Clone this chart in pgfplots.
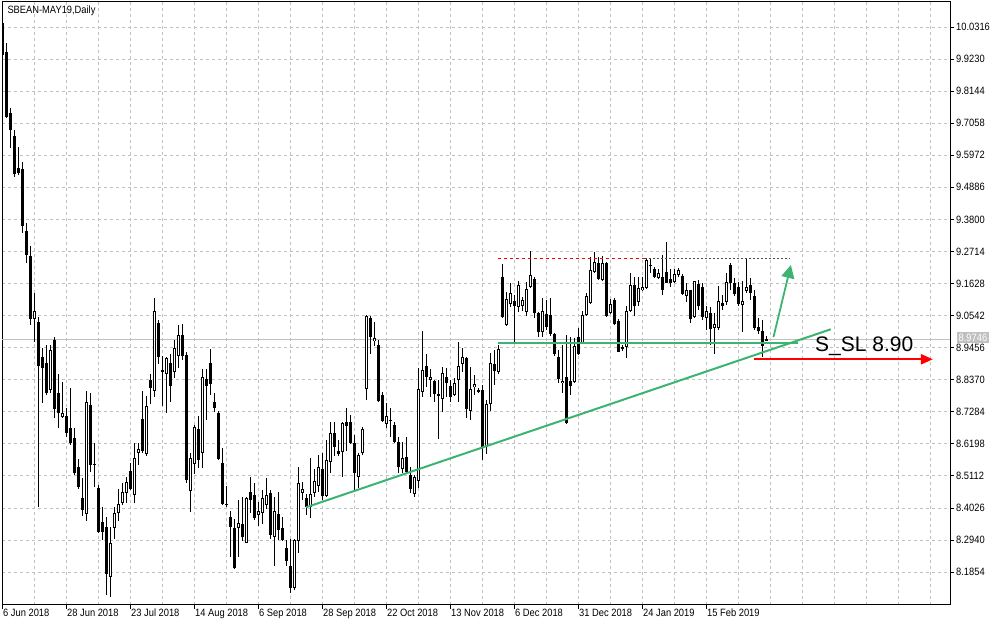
\documentclass[border=0pt]{standalone}
\usepackage{pgfplots}
\pgfplotsset{compat=1.18}
\usepackage{pgfplotstable}
\usetikzlibrary{arrows.meta}
\usepackage{fontspec}
\setmainfont{Liberation Sans}[FakeStretch=0.88]
\newfontfamily\arialfont{Liberation Sans}
\definecolor{silver}{RGB}{192,192,192}
\definecolor{msgreen}{RGB}{60,179,113}
\newcommand{\tfont}{\fontsize{10.6}{12}\selectfont}

\pgfplotstableread{
i O H L C
0 10.045 10.052 9.933 9.937
1 9.948 9.976 9.722 9.728
2 9.741 9.756 9.621 9.683
3 9.662 9.683 9.525 9.533
4 9.553 9.626 9.530 9.536
5 9.551 9.573 9.335 9.359
6 9.341 9.367 9.233 9.259
7 9.256 9.290 9.022 9.044
8 9.044 9.130 8.966 9.070
9 9.031 9.050 8.407 8.884
10 8.913 8.943 8.759 8.878
11 8.893 8.953 8.785 8.793
12 8.802 8.955 8.791 8.938
13 8.971 8.983 8.706 8.737
14 8.791 8.856 8.672 8.723
15 8.712 8.828 8.706 8.723
16 8.714 8.740 8.642 8.657
17 8.672 8.808 8.616 8.621
18 8.638 8.673 8.514 8.520
19 8.542 8.567 8.466 8.474
20 8.435 8.503 8.375 8.396
21 8.381 8.799 8.359 8.762
22 8.751 8.793 8.525 8.548
23 8.551 8.622 8.473 8.551
24 8.469 8.480 8.318 8.322
25 8.356 8.407 8.294 8.322
26 8.339 8.373 8.108 8.179
27 8.170 8.338 8.100 8.283
28 8.334 8.405 8.296 8.386
29 8.384 8.466 8.359 8.416
30 8.418 8.486 8.411 8.458
31 8.452 8.508 8.419 8.491
32 8.528 8.556 8.463 8.466
33 8.446 8.621 8.418 8.571
34 8.588 8.623 8.548 8.601
35 8.703 8.799 8.588 8.596
36 8.584 8.782 8.578 8.748
37 8.836 8.855 8.755 8.808
38 8.799 9.114 8.779 9.071
39 9.028 9.039 8.890 8.913
40 8.870 8.917 8.748 8.866
41 8.855 8.915 8.723 8.909
42 8.892 8.924 8.762 8.817
43 8.864 8.971 8.844 8.943
44 8.918 9.022 8.875 8.987
45 8.987 9.025 8.904 8.918
46 8.921 8.931 8.488 8.497
47 8.460 8.588 8.390 8.571
48 8.550 8.684 8.516 8.678
49 8.670 8.714 8.537 8.565
50 8.590 8.873 8.539 8.847
51 8.838 8.872 8.700 8.817
52 8.892 8.941 8.785 8.821
53 8.760 8.793 8.729 8.740
54 8.723 8.730 8.565 8.567
55 8.554 8.606 8.411 8.416
56 8.415 8.477 8.407 8.415
57 8.372 8.392 8.237 8.339
58 8.335 8.364 8.196 8.199
59 8.334 8.429 8.237 8.351
60 8.347 8.439 8.290 8.305
61 8.285 8.440 8.283 8.435
62 8.456 8.506 8.384 8.429
63 8.446 8.488 8.362 8.367
64 8.379 8.424 8.341 8.392
65 8.384 8.463 8.347 8.435
66 8.411 8.503 8.398 8.446
67 8.452 8.463 8.296 8.311
68 8.303 8.439 8.207 8.392
69 8.381 8.456 8.294 8.328
70 8.334 8.371 8.290 8.294
71 8.266 8.294 8.207 8.223
72 8.207 8.296 8.115 8.132
73 8.130 8.297 8.125 8.294
74 8.290 8.542 8.249 8.486
75 8.454 8.491 8.429 8.466
76 8.435 8.449 8.379 8.407
77 8.407 8.571 8.367 8.449
78 8.454 8.533 8.441 8.494
79 8.478 8.582 8.458 8.540
80 8.533 8.588 8.429 8.444
81 8.444 8.633 8.441 8.565
82 8.559 8.694 8.522 8.655
83 8.655 8.693 8.580 8.610
84 8.595 8.633 8.580 8.585
85 8.593 8.695 8.508 8.689
86 8.693 8.740 8.595 8.681
87 8.693 8.717 8.619 8.621
88 8.621 8.650 8.463 8.520
89 8.508 8.588 8.469 8.582
90 8.590 8.678 8.582 8.669
91 8.804 9.056 8.768 9.053
92 9.045 9.053 8.924 8.983
93 8.969 9.033 8.951 8.977
94 8.955 8.971 8.761 8.766
95 8.785 8.796 8.694 8.698
96 8.686 8.757 8.673 8.715
97 8.700 8.740 8.644 8.700
98 8.683 8.695 8.621 8.627
99 8.627 8.644 8.520 8.542
100 8.533 8.627 8.520 8.571
101 8.574 8.644 8.520 8.525
102 8.514 8.542 8.452 8.466
103 8.450 8.514 8.441 8.506
104 8.494 8.878 8.469 8.804
105 8.796 9.003 8.779 8.870
106 8.883 8.923 8.813 8.847
107 8.836 8.872 8.779 8.847
108 8.833 8.836 8.760 8.787
109 8.789 8.836 8.635 8.783
110 8.771 8.881 8.729 8.859
111 8.845 8.876 8.779 8.825
112 8.816 8.836 8.762 8.777
113 8.785 8.842 8.782 8.827
114 8.836 8.966 8.762 8.884
115 8.889 8.943 8.863 8.913
116 8.909 8.915 8.706 8.737
117 8.732 8.881 8.700 8.804
118 8.811 8.853 8.785 8.822
119 8.802 8.809 8.792 8.796
120 8.802 8.819 8.565 8.610
121 8.610 8.768 8.585 8.755
122 8.755 8.926 8.732 8.892
123 8.890 8.938 8.819 8.867
124 8.864 8.955 8.855 8.940
125 9.184 9.229 9.046 9.050
126 9.022 9.134 9.019 9.109
127 9.092 9.163 9.084 9.130
128 9.104 9.124 8.962 9.086
129 9.084 9.172 9.067 9.158
130 9.086 9.118 9.070 9.107
131 9.067 9.169 9.053 9.143
132 9.150 9.273 9.146 9.192
133 9.177 9.186 9.045 9.062
134 9.062 9.067 8.983 8.997
135 8.997 9.113 8.983 9.070
136 9.059 9.107 9.005 9.016
137 9.056 9.114 8.985 8.992
138 8.992 8.995 8.917 8.924
139 8.915 8.938 8.827 8.840
140 8.825 8.955 8.791 8.833
141 8.846 8.988 8.687 8.689
142 8.833 8.983 8.785 8.816
143 8.830 8.977 8.825 8.951
144 8.981 9.011 8.921 8.923
145 8.962 9.070 8.960 9.056
146 9.056 9.130 9.053 9.120
147 9.096 9.252 9.093 9.209
148 9.202 9.268 9.199 9.236
149 9.231 9.254 9.175 9.177
150 9.175 9.256 9.172 9.231
151 9.231 9.236 9.050 9.054
152 9.062 9.109 9.059 9.093
153 9.107 9.112 9.022 9.025
154 9.036 9.042 8.930 8.930
155 8.949 8.955 8.935 8.940
156 8.949 9.086 8.909 9.070
157 9.071 9.197 9.067 9.158
158 9.158 9.186 9.053 9.086
159 9.101 9.186 9.086 9.146
160 9.141 9.186 9.139 9.150
161 9.146 9.248 9.144 9.242
162 9.225 9.245 9.197 9.225
163 9.211 9.220 9.180 9.186
164 9.180 9.211 9.177 9.199
165 9.186 9.259 9.124 9.141
166 9.202 9.304 9.163 9.165
167 9.177 9.211 9.152 9.165
168 9.169 9.211 9.165 9.195
169 9.192 9.214 9.186 9.209
170 9.189 9.195 9.124 9.126
171 9.120 9.163 9.101 9.141
172 9.141 9.141 9.028 9.042
173 9.048 9.172 9.045 9.172
174 9.161 9.175 9.073 9.086
175 9.152 9.164 9.039 9.050
176 9.045 9.086 9.005 9.070
177 9.062 9.082 8.955 9.008
178 9.011 9.062 8.924 9.025
179 9.013 9.154 9.005 9.105
180 9.098 9.124 9.073 9.086
181 9.101 9.199 9.090 9.169
182 9.225 9.231 9.141 9.163
183 9.163 9.180 9.120 9.127
184 9.152 9.169 9.086 9.093
185 9.089 9.171 8.999 9.104
186 9.139 9.245 9.131 9.150
187 9.158 9.180 9.107 9.132
188 9.120 9.141 9.005 9.012
189 9.015 9.046 8.992 9.002
190 9.002 9.039 8.915 8.951
191 8.969 8.985 8.968 8.9746
}\candles

\begin{document}
\begin{tikzpicture}
\useasboundingbox (-2pt,-19pt) rectangle (1000pt,605pt);
\begin{axis}[
  at={(0pt,0pt)}, anchor=south west,
  scale only axis, width=948pt, height=603pt,
  xmin=-0.125, xmax=236.875, ymin=8.0737, ymax=10.1163,
  axis line style={black, line width=1pt},
  tick align=outside, xtick pos=bottom, ytick pos=right, yticklabel pos=right,
  major tick length=4pt, minor tick length=0pt,
  tick style={black, line width=0.8pt},
  xtick={-0.125,15.875,31.875,47.875,63.875,79.875,95.875,111.875,127.875,143.875,159.875,175.875},
  xticklabels={6 Jun 2018,28 Jun 2018,23 Jul 2018,14 Aug 2018,6 Sep 2018,28 Sep 2018,22 Oct 2018,13 Nov 2018,6 Dec 2018,31 Dec 2018,24 Jan 2019,15 Feb 2019},
  minor xtick={7.875,23.875,39.875,55.875,71.875,87.875,103.875,119.875,135.875,151.875,167.875,183.875,191.875,199.875,207.875,215.875,223.875,231.875},
  ytick={10.0316,9.9230,9.8144,9.7058,9.5972,9.4886,9.3800,9.2714,9.1628,9.0542,8.9456,8.8370,8.7284,8.6198,8.5112,8.4026,8.2940,8.1854},
  yticklabels={10.0316,9.9230,9.8144,9.7058,9.5972,9.4886,9.3800,9.2714,9.1628,9.0542,8.9456,8.8370,8.7284,8.6198,8.5112,8.4026,8.2940,8.1854},
  grid=both,
  major grid style={silver, dash pattern=on 3pt off 3pt, line width=0.8pt},
  minor grid style={silver, dash pattern=on 3pt off 3pt, line width=0.8pt},
  ticklabel style={font=\tfont, inner sep=0pt},
  xticklabel style={anchor=north west, xshift=1pt},
  yticklabel style={anchor=west, xshift=2pt},
]
% current price line
\addplot[silver, line width=1pt, forget plot] coordinates {(-0.125,8.9746) (236.875,8.9746)};
% wicks
\addplot[draw=none, mark=none, forget plot,
  error bars/.cd, y dir=both, y explicit, error mark=none,
  error bar style={draw=black, solid, line width=1pt}]
  table[x=i, y expr={(\thisrow{H}+\thisrow{L})/2}, y error expr={(\thisrow{H}-\thisrow{L})/2}] {\candles};
% bodies
\addplot[draw=none, mark=none, forget plot,
  error bars/.cd, y dir=both, y explicit, error mark=none,
  error bar style={draw=black, solid, line width=3pt}]
  table[x=i, y expr={(\thisrow{O}+\thisrow{C})/2}, y error expr={max(abs(\thisrow{O}-\thisrow{C})/2,0.0017)}] {\candles};
% hollow interiors of rising candles
\addplot[draw=none, mark=none, forget plot,
  error bars/.cd, y dir=both, y explicit, error mark=none,
  error bar style={draw=white, solid, line width=1pt}]
  table[x=i, y expr={(\thisrow{O}+\thisrow{C})/2}, y error expr={max((\thisrow{C}-\thisrow{O})/2-0.0034,0)}] {\candles};
% annotations
\addplot[msgreen, line width=2pt] coordinates {(75.9,8.4046) (207.05,9.0076)};
\addplot[msgreen, line width=2.2pt] coordinates {(123.9,8.9602) (198.9,8.9602)};
\addplot[red, line width=1pt, dash pattern=on 3pt off 3pt] coordinates {(123.9,9.2474) (160.6,9.2474)};
\addplot[black!70, line width=1pt, dash pattern=on 2pt off 2pt] coordinates {(160.6,9.2460) (196.9,9.2460)};
\addplot[msgreen, line width=1.8pt, -{Triangle[length=13pt,width=13pt]}] coordinates {(192.75,8.9815) (197.1,9.2254)};
\addplot[red, line width=2.2pt, -{Triangle[length=12pt,width=10pt]}] coordinates {(187.9,8.906) (232.6,8.906)};
\end{axis}
\node[anchor=base west, inner sep=0pt, font=\tfont] at (5.3pt,591.7pt) {SBEAN-MAY19,Daily};
\node[anchor=base west, inner sep=0pt, font=\arialfont\fontsize{21}{24}\selectfont] at (813pt,253pt) {S\_SL 8.90};
\node[anchor=west, fill=silver, text=white, font=\tfont, inner xsep=1.5pt, inner ysep=2pt, text height=7.4pt, text depth=0pt] at (955pt,267.5pt) {8.9746};
\end{tikzpicture}
\end{document}
